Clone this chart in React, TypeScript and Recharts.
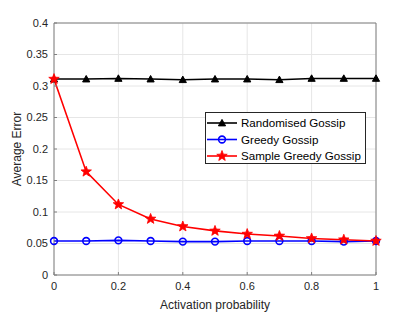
import React from "react";
import {
  CartesianGrid, Line, LineChart, XAxis, YAxis, ReferenceLine,
} from "recharts";

const probability = [0, 0.1, 0.2, 0.3, 0.4, 0.5, 0.6, 0.7, 0.8, 0.9, 1];
const randomised = [0.311, 0.311, 0.312, 0.311, 0.31, 0.311, 0.311, 0.31, 0.312, 0.312, 0.312];
const greedy = [0.054, 0.054, 0.055, 0.054, 0.053, 0.053, 0.054, 0.054, 0.054, 0.053, 0.054];
const sampleGreedy = [0.311, 0.164, 0.112, 0.089, 0.077, 0.07, 0.065, 0.062, 0.058, 0.056, 0.054];

const xTicks = [0, 0.2, 0.4, 0.6, 0.8, 1];
const yTicks = [0, 0.05, 0.1, 0.15, 0.2, 0.25, 0.3, 0.35, 0.4];

const data = probability.map((p, i) => ({
  p,
  randomised: randomised[i],
  greedy: greedy[i],
  sample: sampleGreedy[i],
}));

const FONT = "'Liberation Sans', Arial, sans-serif";
const AXIS = "#808080";
const TEXT = "#262626";

const fmt = (v: number) => String(+v.toFixed(2));

function starPoints(cx: number, cy: number, r: number) {
  const pts: string[] = [];
  for (let i = 0; i < 10; i++) {
    const rr = i % 2 === 0 ? r : r * 0.42;
    const a = -Math.PI / 2 + (i * Math.PI) / 5;
    pts.push(`${cx + rr * Math.cos(a)},${cy + rr * Math.sin(a)}`);
  }
  return pts.join(" ");
}

function Triangle({ cx, cy }: any) {
  if (cx == null || cy == null) return null;
  const s = 3.6;
  return (
    <polygon
      points={`${cx},${cy - s} ${cx - s},${cy + s * 0.8} ${cx + s},${cy + s * 0.8}`}
      fill="#000" stroke="#000" strokeWidth={1}
    />
  );
}

function Circle({ cx, cy }: any) {
  if (cx == null || cy == null) return null;
  return <circle cx={cx} cy={cy} r={3.4} fill="none" stroke="#0000ff" strokeWidth={1.6} />;
}

function Star({ cx, cy }: any) {
  if (cx == null || cy == null) return null;
  return <polygon points={starPoints(cx, cy, 5.5)} fill="#ff0000" stroke="#ff0000" strokeWidth={0.8} />;
}

const legendRows = [
  { name: "Randomised Gossip", color: "#000", Marker: Triangle },
  { name: "Greedy Gossip", color: "#0000ff", Marker: Circle },
  { name: "Sample Greedy Gossip", color: "#ff0000", Marker: Star },
];

function LegendBox() {
  return (
    <svg width={161} height={52} style={{ display: "block" }}>
      <rect x={0.5} y={0.5} width={160} height={51} fill="#fff" stroke={TEXT} strokeWidth={1} />
      {legendRows.map((r, i) => {
        const y = 11 + i * 16.5;
        return (
          <g key={r.name}>
            <line x1={2} x2={32} y1={y} y2={y} stroke={r.color} strokeWidth={1.6} />
            <r.Marker cx={17} cy={y} />
            <text x={36} y={y + 4.2} fontSize={11.6} fontFamily={FONT} fill="#000">
              {r.name}
            </text>
          </g>
        );
      })}
    </svg>
  );
}

export default function App() {
  return (
    <div style={{ position: "absolute", left: 0, top: 0, width: 415, height: 312 }}>
      <LineChart
        width={415}
        height={312}
        data={data}
        margin={{ top: 23, right: 39, bottom: 0, left: 14 }}
      >
        <CartesianGrid stroke="#e6e6e6" strokeWidth={1} horizontalValues={yTicks} verticalValues={xTicks} />
        <XAxis
          dataKey="p"
          type="number"
          domain={[0, 1]}
          ticks={xTicks}
          tickFormatter={fmt}
          height={37}
          stroke={AXIS}
          tickSize={-3}
          tickMargin={10}
          tick={{ fill: TEXT, fontSize: 11, fontFamily: FONT }}
          label={{
            content: () => (
              <text x={215} y={309} textAnchor="middle" fontSize={12} fontFamily={FONT} fill={TEXT}>
                Activation probability
              </text>
            ),
          }}
        />
        <YAxis
          type="number"
          domain={[0, 0.4]}
          ticks={yTicks}
          tickFormatter={fmt}
          width={40}
          stroke={AXIS}
          tickSize={-3}
          tickMargin={9}
          interval={0}
          tick={{ fill: TEXT, fontSize: 11, fontFamily: FONT }}
          label={{
            content: () => (
              <text
                x={21}
                y={149}
                transform="rotate(-90 21 149)"
                textAnchor="middle"
                fontSize={12}
                fontFamily={FONT}
                fill={TEXT}
              >
                Average Error
              </text>
            ),
          }}
        />
        <ReferenceLine y={0.4} stroke={AXIS} ifOverflow="visible" />
        <ReferenceLine x={1} stroke={AXIS} ifOverflow="visible" />
        <Line
          dataKey="randomised"
          stroke="#000"
          strokeWidth={1.6}
          dot={<Triangle />}
          activeDot={false}
          isAnimationActive={false}
        />
        <Line
          dataKey="greedy"
          stroke="#0000ff"
          strokeWidth={1.6}
          dot={<Circle />}
          activeDot={false}
          isAnimationActive={false}
        />
        <Line
          dataKey="sample"
          stroke="#ff0000"
          strokeWidth={1.6}
          dot={<Star />}
          activeDot={false}
          isAnimationActive={false}
        />
      </LineChart>
      <div style={{ position: "absolute", left: 205, top: 112 }}>
        <LegendBox />
      </div>
    </div>
  );
}
